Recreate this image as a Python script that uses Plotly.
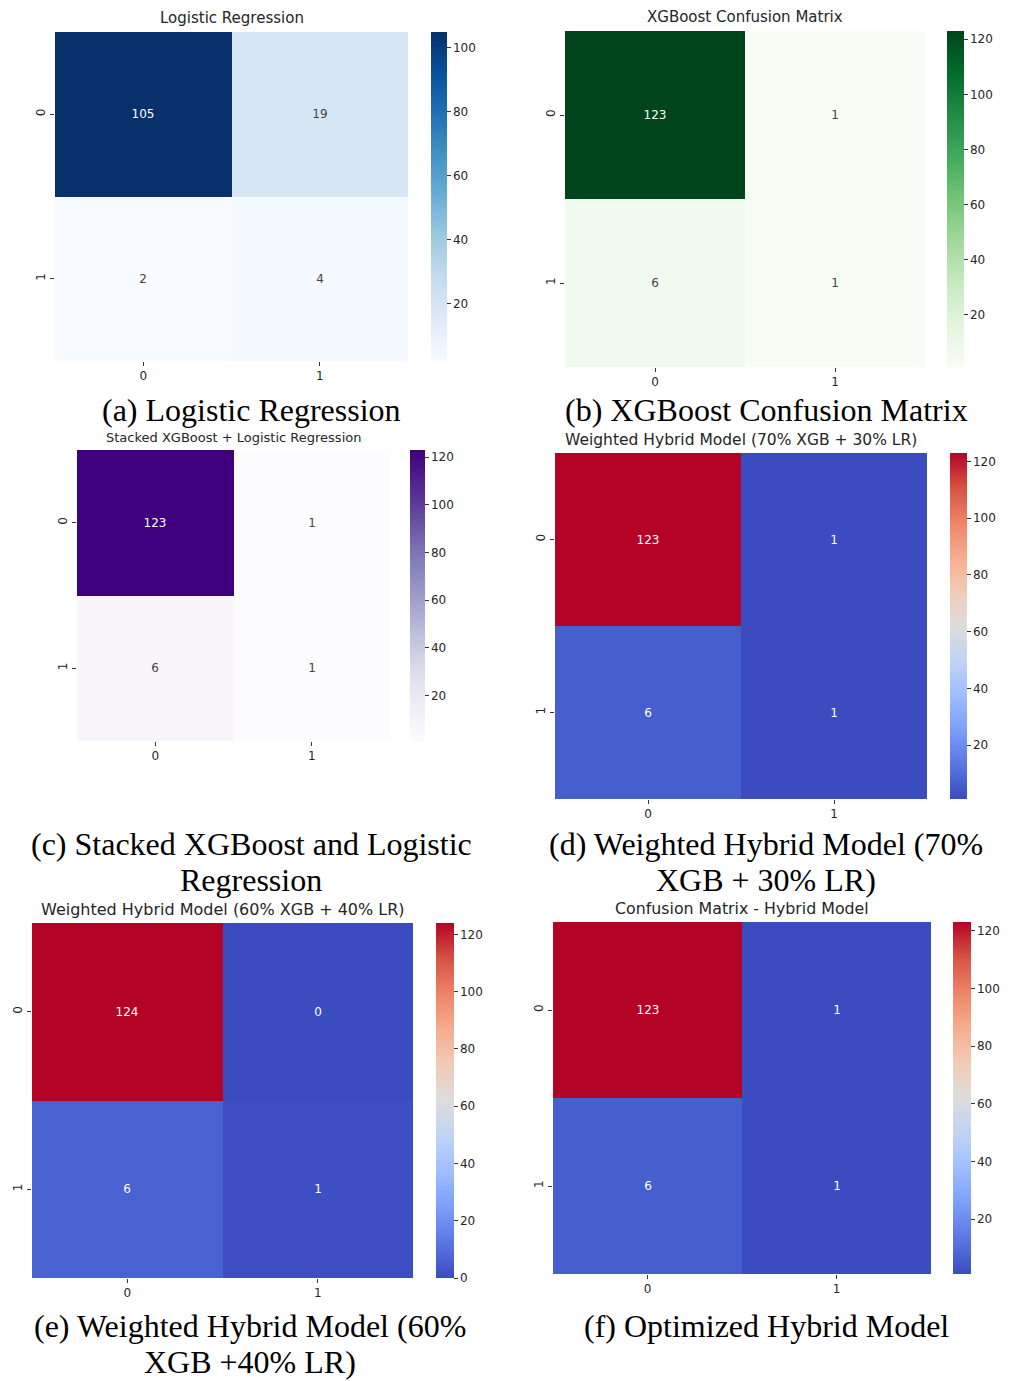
import plotly.graph_objects as go

W, H = 1009, 1381

# ---------------- data ----------------
class_labels = ["0", "1"]
lr_cm = [[105, 19], [2, 4]]
xgb_cm = [[123, 1], [6, 1]]
stacked_cm = [[123, 1], [6, 1]]
weighted70_cm = [[123, 1], [6, 1]]
weighted60_cm = [[124, 0], [6, 1]]
hybrid_cm = [[123, 1], [6, 1]]

panel_titles = [
    "Logistic Regression",
    "XGBoost Confusion Matrix",
    "Stacked XGBoost + Logistic Regression",
    "Weighted Hybrid Model (70% XGB + 30% LR)",
    "Weighted Hybrid Model (60% XGB + 40% LR)",
    "Confusion Matrix - Hybrid Model",
]
captions = [
    ["(a) Logistic Regression"],
    ["(b) XGBoost Confusion Matrix"],
    ["(c) Stacked XGBoost and Logistic", "Regression"],
    ["(d) Weighted Hybrid Model (70%", "XGB + 30% LR)"],
    ["(e) Weighted Hybrid Model (60%", "XGB +40% LR)"],
    ["(f) Optimized Hybrid Model"],
]
cbar_ticks_a = [20, 40, 60, 80, 100]
cbar_ticks_std = [20, 40, 60, 80, 100, 120]
cbar_ticks_e = [0, 20, 40, 60, 80, 100, 120]

# ---------------- colour scales ----------------
def scale(hexes):
    n = len(hexes) - 1
    return [[i / n, h] for i, h in enumerate(hexes)]

BLUES = scale(["#f7fbff", "#deebf7", "#c6dbef", "#9ecae1", "#6baed6",
               "#4292c6", "#2171b5", "#08519c", "#08306b"])
GREENS = scale(["#f7fcf5", "#e5f5e0", "#c7e9c0", "#a1d99b", "#74c476",
                "#41ab5d", "#238b45", "#006d2c", "#00441b"])
PURPLES = scale(["#fcfbfd", "#efedf5", "#dadaeb", "#bcbddc", "#9e9ac8",
                 "#807dba", "#6a51a3", "#54278f", "#3f007d"])
COOLWARM = scale(["#3b4cc0", "#5977e3", "#7b9ff9", "#9ebeff", "#c0d4f5",
                  "#dddcdc", "#f2cbb7", "#f7ac8e", "#ee8468", "#d65244",
                  "#b40426"])

# ---------------- layout (page pixels) ----------------
panels = [
    dict(z=lr_cm, cs=BLUES, ticks=cbar_ticks_a, box=(55, 408, 32, 361), cb=(431, 447), ty=18, tsize=15, cx=251, cy=[410]),
    dict(z=xgb_cm, cs=GREENS, ticks=cbar_ticks_std, box=(565, 925, 31, 367), cb=(947, 964), ty=17, tsize=15, cx=766, cy=[410]),
    dict(z=stacked_cm, cs=PURPLES, ticks=cbar_ticks_std, box=(77, 390, 450, 741), cb=(410, 425), ty=438, tsize=13, cx=251, cy=[844, 880]),
    dict(z=weighted70_cm, cs=COOLWARM, ticks=cbar_ticks_std, box=(555, 927, 453, 799), cb=(950, 967), ty=440, tsize=15.5, cx=766, cy=[844, 880]),
    dict(z=weighted60_cm, cs=COOLWARM, ticks=cbar_ticks_e, box=(32, 413, 923, 1278), cb=(436, 454), ty=910, tsize=16, cx=250, cy=[1326, 1362]),
    dict(z=hybrid_cm, cs=COOLWARM, ticks=cbar_ticks_std, box=(553, 931, 922, 1274), cb=(953, 971), ty=908, tsize=15.8, cx=766, cy=[1326, 1362]),
]

def px(x):
    return x / W

def py(y):
    return 1 - y / H

FONT = "DejaVu Sans"
TXT = "#262626"

fig = go.Figure()
annotations = []
layout_axes = {}

for i, p in enumerate(panels, start=1):
    x0, x1, y0, y1 = p["box"]
    c0, c1 = p["cb"]
    xa = "x" if i == 1 else f"x{i}"
    ya = "y" if i == 1 else f"y{i}"
    fig.add_trace(go.Heatmap(
        z=p["z"], x=[0, 1], y=[0, 1],
        xaxis=xa, yaxis=ya,
        colorscale=p["cs"],
        texttemplate="%{z}",
        textfont=dict(family=FONT, size=12),
        hoverinfo="skip",
        colorbar=dict(
            x=px(c0), xanchor="left", xpad=0,
            y=py((y0 + y1) / 2), yanchor="middle", ypad=0,
            len=(y1 - y0), lenmode="pixels",
            thickness=(c1 - c0), thicknessmode="pixels",
            outlinewidth=0,
            tickvals=p["ticks"], ticks="outside", ticklen=4,
            tickcolor="#333", tickwidth=1,
            tickfont=dict(family=FONT, size=12, color=TXT),
        ),
    ))
    axkey = "" if i == 1 else str(i)
    layout_axes[f"xaxis{axkey}"] = dict(
        domain=[px(x0), px(x1)], anchor=ya, range=[-0.5, 1.5],
        tickvals=[0, 1], ticktext=class_labels, ticks="outside", ticklen=4,
        tickcolor="#333", showgrid=False, zeroline=False, showline=False,
        tickfont=dict(family=FONT, size=12, color=TXT),
    )
    layout_axes[f"yaxis{axkey}"] = dict(
        domain=[py(y1), py(y0)], anchor=xa, range=[1.5, -0.5],
        tickvals=[0, 1], ticktext=class_labels, ticks="outside", ticklen=4,
        tickcolor="#333", tickangle=-90, showgrid=False, zeroline=False,
        showline=False,
        tickfont=dict(family=FONT, size=12, color=TXT),
    )
    annotations.append(dict(
        text=panel_titles[i - 1], x=px((x0 + x1) / 2), y=py(p["ty"]),
        xref="paper", yref="paper", xanchor="center", yanchor="middle",
        showarrow=False, font=dict(family=FONT, size=p["tsize"], color=TXT),
    ))
    for line, cy in zip(captions[i - 1], p["cy"]):
        annotations.append(dict(
            text=line, x=px(p["cx"]), y=py(cy),
            xref="paper", yref="paper", xanchor="center", yanchor="middle",
            showarrow=False,
            font=dict(family="Liberation Serif", size=32, color="#000000"),
        ))

fig.update_layout(
    width=W, height=H,
    margin=dict(l=0, r=0, t=0, b=0),
    paper_bgcolor="white", plot_bgcolor="white",
    showlegend=False,
    annotations=annotations,
    **layout_axes,
)

fig.write_html(
    "out.html",
    config={"displayModeBar": False, "staticPlot": True},
    post_script="document.body.style.margin='0px';",
)
